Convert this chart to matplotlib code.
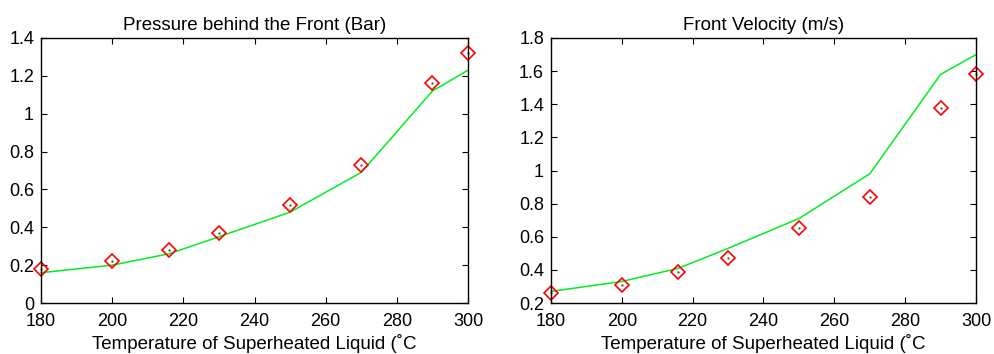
import numpy as np
import matplotlib
matplotlib.use('Agg')
import matplotlib.pyplot as plt

plt.rcParams['font.family'] = ['Liberation Sans', 'DejaVu Sans']

# temperatures (deg C)
temp = [180, 200, 216, 230, 250, 270, 290, 300]

# pressure behind the front (bar)
p_exp = [0.18, 0.22, 0.28, 0.37, 0.52, 0.73, 1.16, 1.32]
p_model = [0.16, 0.20, 0.26, 0.35, 0.48, 0.69, 1.12, 1.23]

# front velocity (m/s)
v_exp = [0.26, 0.31, 0.39, 0.47, 0.65, 0.84, 1.38, 1.58]
v_model = [0.27, 0.33, 0.41, 0.53, 0.71, 0.98, 1.58, 1.70]

titles = ['Pressure behind the Front (Bar)', 'Front Velocity (m/s)']
xlab = 'Temperature of Superheated Liquid (˚C'

fig = plt.figure(figsize=(9.95, 3.54), dpi=100)
ax1 = fig.add_axes([41/995, 1-303/354, 427/995, 265/354])
ax2 = fig.add_axes([551/995, 1-303/354, 425/995, 265/354])

def draw(ax, exp, model, title, ylim, yticks):
    ax.plot(temp, model, color='#00ee22', lw=1.1, clip_on=False)
    ax.plot(temp, exp, linestyle='none', marker='D', ms=7, mfc='none',
            mec='red', mew=1.2, clip_on=False)
    ax.plot(temp, exp, linestyle='none', marker='.', ms=1.2, color='#444444',
            clip_on=False)
    ax.set_xlim(180, 300)
    ax.set_ylim(*ylim)
    ax.set_xticks(np.arange(180, 301, 20))
    ax.set_yticks(yticks)
    ax.set_yticklabels(['%g' % t for t in yticks])
    ax.tick_params(direction='in', top=True, right=True, labelsize=13, length=4)
    ax.tick_params(axis='x', pad=7)
    ax.tick_params(axis='y', pad=5)
    ax.set_title(title, fontsize=13.5, pad=6)
    ax.set_xlabel(xlab, fontsize=13.5, labelpad=3)
    for s in ax.spines.values():
        s.set_linewidth(1.0)

draw(ax1, p_exp, p_model, titles[0], (0, 1.4), np.arange(0, 1.41, 0.2).round(1))
draw(ax2, v_exp, v_model, titles[1], (0.2, 1.8), np.arange(0.2, 1.81, 0.2).round(1))

fig.savefig('out.png', dpi=100)
